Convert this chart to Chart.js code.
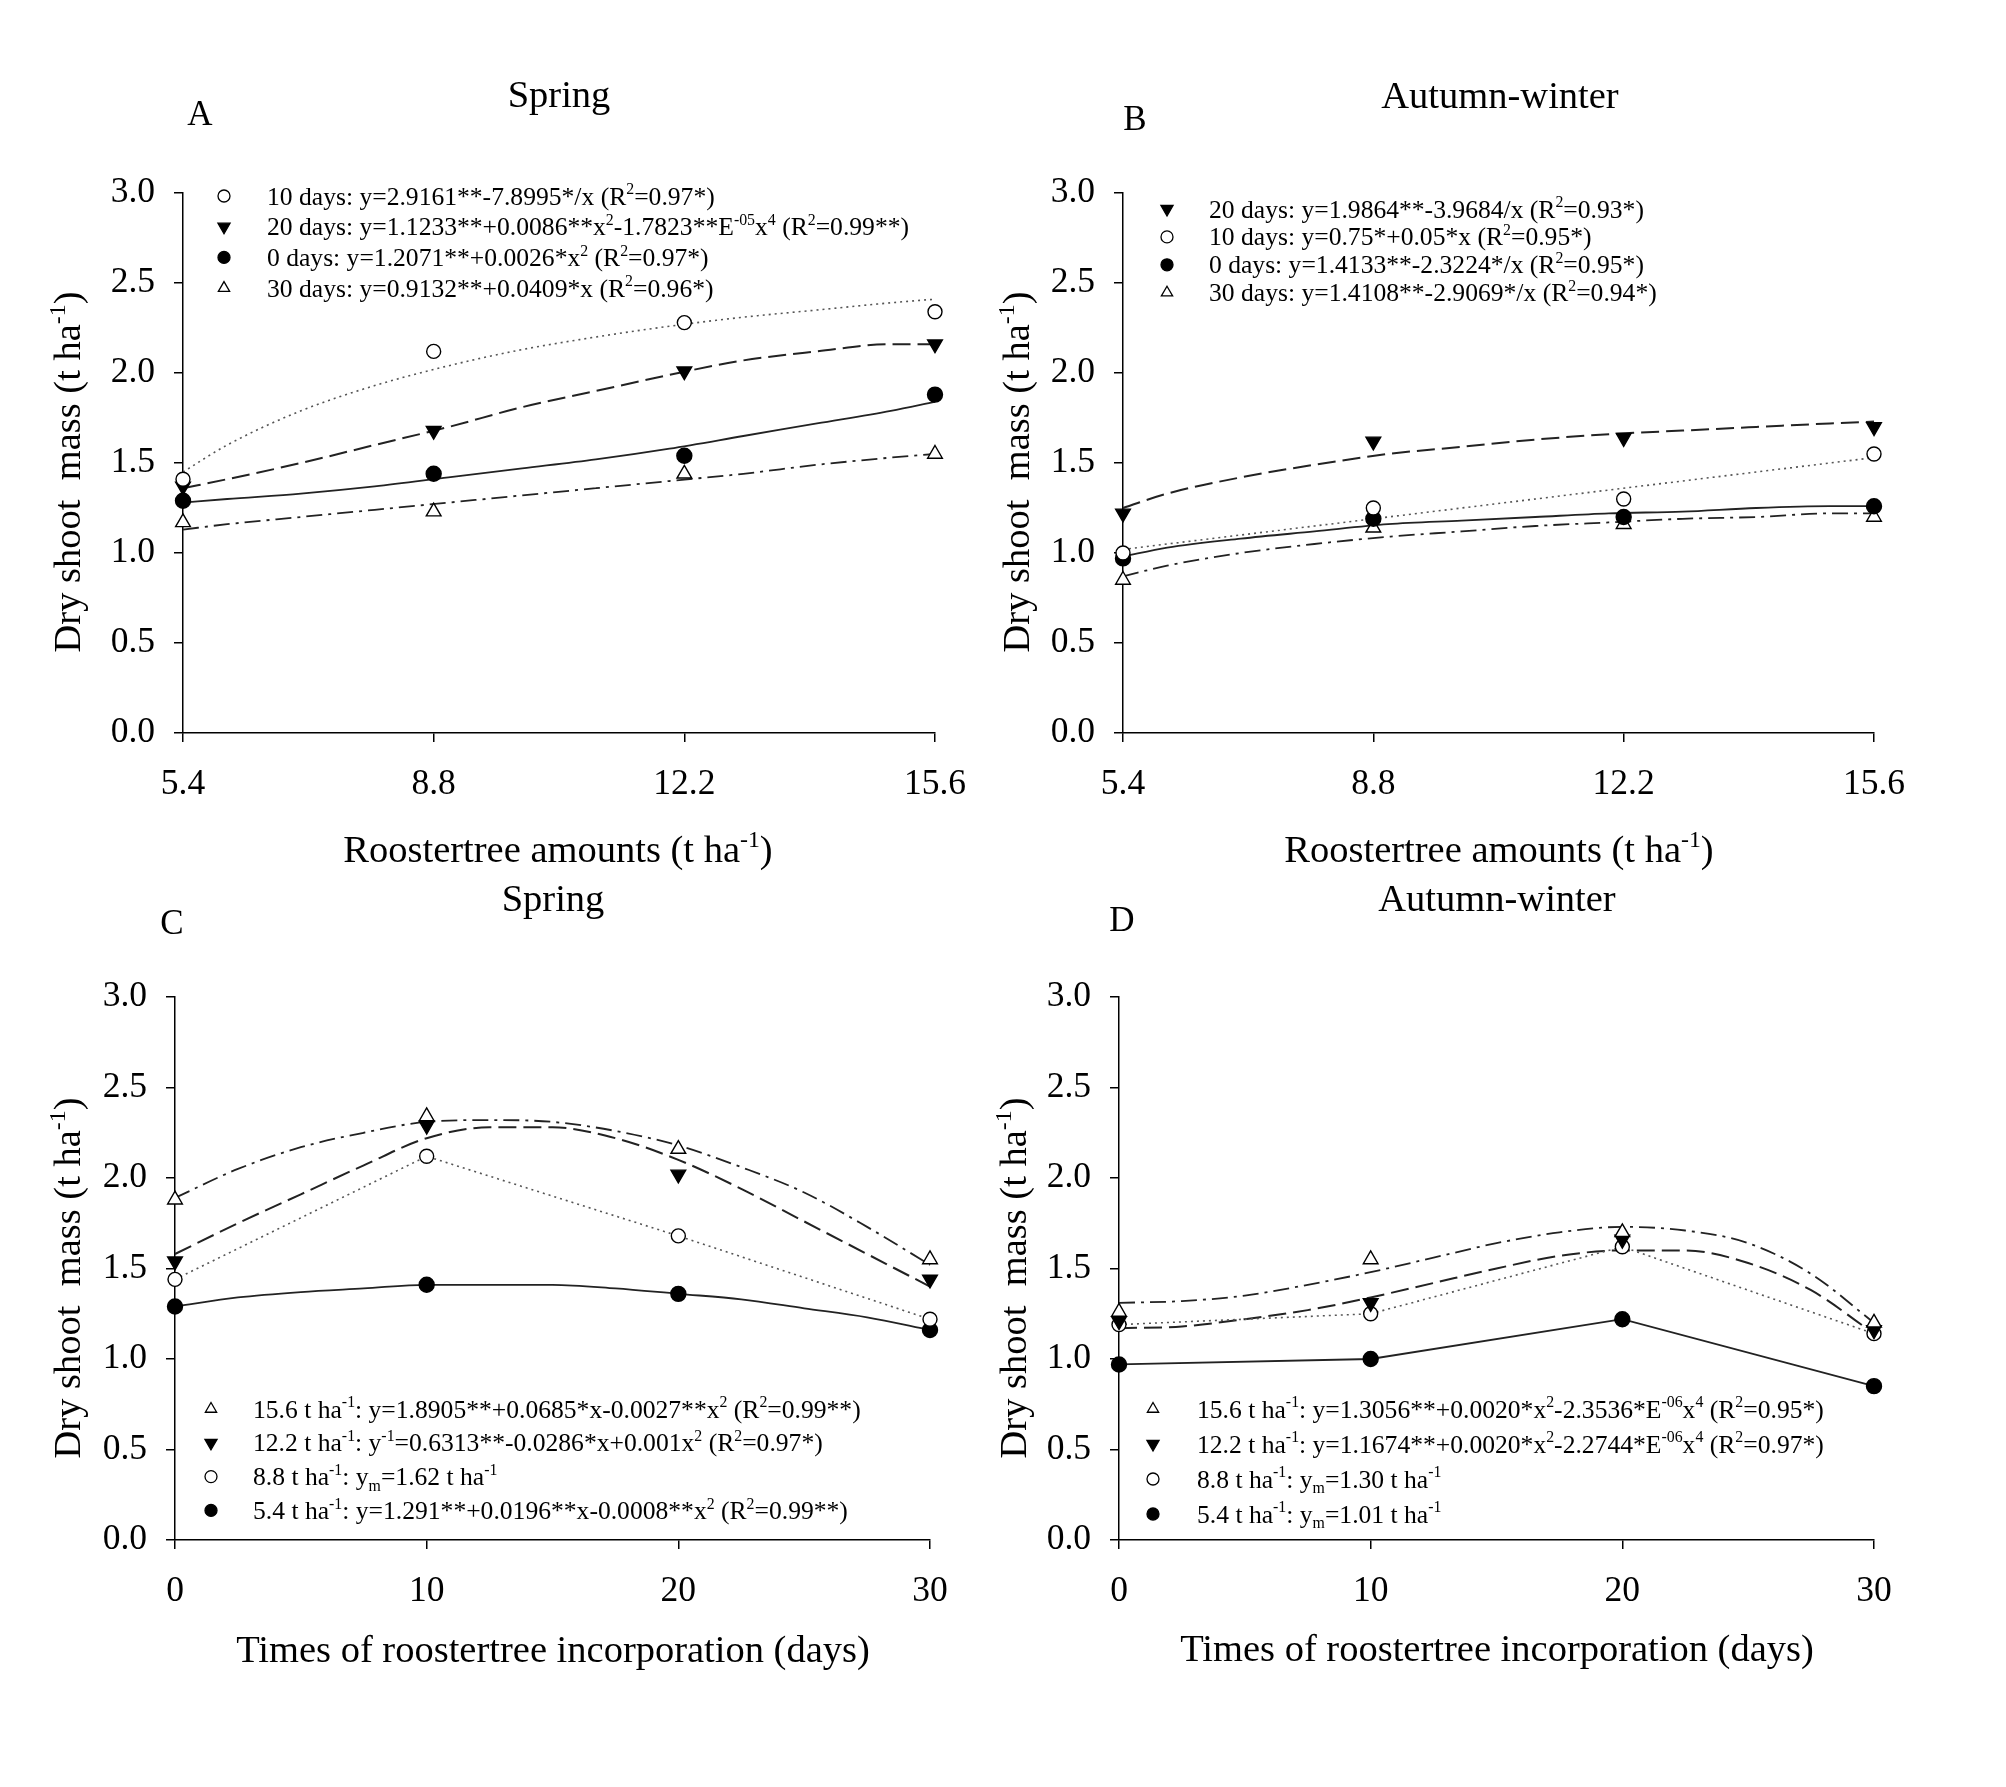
<!DOCTYPE html>
<html>
<head>
<meta charset="utf-8">
<title>Dry shoot mass</title>
<script src="https://cdn.jsdelivr.net/npm/chart.js@4.4.1/dist/chart.umd.min.js"></script>
<style>
  body { margin: 0; background: #fff; }
  #page { position: relative; width: 2006px; height: 1787px; background: #fff; overflow: hidden; }
  #page canvas { position: absolute; left: 0; top: 0; width: 2006px; height: 1787px; }
</style>
</head>
<body>
<div id="page"></div>
<script>
const W = 2006, H = 1787;
const FONT = '"Liberation Serif", "Times New Roman", serif';

// x positions
const amounts = [5.4, 8.8, 12.2, 15.6];
const amountFitX = [5.4, 6, 7, 8, 9, 10, 11, 12, 13, 14, 15, 15.6];
const days = [0, 10, 20, 30];
const dayFitX = [0, 2.5, 5, 7.5, 10, 12.5, 15, 17.5, 20, 22.5, 25, 27.5, 30];
const yTicks = [0, 0.5, 1, 1.5, 2, 2.5, 3];

// A - Spring, by roostertree amount (series = days of incorporation)
const springAmt10 = [1.41, 2.12, 2.28, 2.34];
const springAmt20 = [1.37, 1.68, 2.01, 2.16];
const springAmt0 = [1.29, 1.44, 1.54, 1.88];
const springAmt30 = [1.17, 1.23, 1.44, 1.55];
const springAmt10Fit = [1.45, 1.60, 1.79, 1.93, 2.04, 2.13, 2.20, 2.26, 2.31, 2.35, 2.39, 2.41];
const springAmt20Fit = [1.36, 1.41, 1.50, 1.60, 1.70, 1.81, 1.90, 1.99, 2.07, 2.12, 2.16, 2.16];
const springAmt0Fit = [1.28, 1.30, 1.33, 1.37, 1.42, 1.47, 1.52, 1.58, 1.65, 1.72, 1.79, 1.84];
const springAmt30Fit = [1.13, 1.16, 1.20, 1.24, 1.28, 1.32, 1.36, 1.40, 1.44, 1.49, 1.53, 1.55];

// B - Autumn-winter, by roostertree amount
const autumnAmt20 = [1.22, 1.62, 1.64, 1.70];
const autumnAmt10 = [1.00, 1.25, 1.30, 1.55];
const autumnAmt0 = [0.97, 1.19, 1.20, 1.26];
const autumnAmt30 = [0.85, 1.14, 1.16, 1.20];
const autumnAmt20Fit = [1.25, 1.33, 1.42, 1.49, 1.55, 1.59, 1.63, 1.66, 1.68, 1.70, 1.72, 1.73];
const autumnAmt10Fit = [1.02, 1.05, 1.10, 1.15, 1.20, 1.25, 1.30, 1.35, 1.40, 1.45, 1.50, 1.53];
const autumnAmt0Fit = [0.98, 1.03, 1.08, 1.12, 1.16, 1.18, 1.20, 1.22, 1.23, 1.25, 1.26, 1.26];
const autumnAmt30Fit = [0.87, 0.93, 1.00, 1.05, 1.09, 1.12, 1.15, 1.17, 1.19, 1.20, 1.22, 1.22];

// C - Spring, by time of incorporation (series = amount)
const springDay156 = [1.88, 2.34, 2.16, 1.55];
const springDay122 = [1.54, 2.29, 2.02, 1.44];
const springDay88 = [1.44, 2.12, 1.68, 1.22];
const springDay54 = [1.29, 1.41, 1.36, 1.16];
const springDay156Fit = [1.89, 2.05, 2.17, 2.25, 2.31, 2.32, 2.31, 2.26, 2.18, 2.06, 1.92, 1.73, 1.52];
const springDay122Fit = [1.58, 1.75, 1.91, 2.07, 2.22, 2.28, 2.28, 2.22, 2.10, 1.94, 1.76, 1.58, 1.40];
const springDay54Fit = [1.29, 1.34, 1.37, 1.39, 1.41, 1.41, 1.41, 1.39, 1.36, 1.33, 1.28, 1.23, 1.16];

// D - Autumn-winter, by time of incorporation
const autumnDay156 = [1.26, 1.55, 1.70, 1.20];
const autumnDay122 = [1.21, 1.31, 1.66, 1.16];
const autumnDay88 = [1.19, 1.25, 1.62, 1.14];
const autumnDay54 = [0.97, 1.00, 1.22, 0.85];
const autumnDay156Fit = [1.31, 1.32, 1.35, 1.41, 1.48, 1.56, 1.64, 1.70, 1.73, 1.71, 1.64, 1.47, 1.20];
const autumnDay122Fit = [1.17, 1.18, 1.22, 1.27, 1.34, 1.42, 1.50, 1.57, 1.60, 1.60, 1.53, 1.38, 1.14];

// legend labels (^{..} superscript, _{..} subscript)
const legendA = [
  '10 days: y=2.9161**-7.8995*/x (R^{2}=0.97*)',
  '20 days: y=1.1233**+0.0086**x^{2}-1.7823**E^{-05}x^{4} (R^{2}=0.99**)',
  '0 days: y=1.2071**+0.0026*x^{2} (R^{2}=0.97*)',
  '30 days: y=0.9132**+0.0409*x (R^{2}=0.96*)'
];
const legendB = [
  '20 days: y=1.9864**-3.9684/x (R^{2}=0.93*)',
  '10 days: y=0.75*+0.05*x (R^{2}=0.95*)',
  '0 days: y=1.4133**-2.3224*/x (R^{2}=0.95*)',
  '30 days: y=1.4108**-2.9069*/x (R^{2}=0.94*)'
];
const legendC = [
  '15.6 t ha^{-1}: y=1.8905**+0.0685*x-0.0027**x^{2} (R^{2}=0.99**)',
  '12.2 t ha^{-1}: y^{-1}=0.6313**-0.0286*x+0.001x^{2} (R^{2}=0.97*)',
  '8.8 t ha^{-1}: y_{m}=1.62 t ha^{-1}',
  '5.4 t ha^{-1}: y=1.291**+0.0196**x-0.0008**x^{2} (R^{2}=0.99**)'
];
const legendD = [
  '15.6 t ha^{-1}: y=1.3056**+0.0020*x^{2}-2.3536*E^{-06}x^{4} (R^{2}=0.95*)',
  '12.2 t ha^{-1}: y=1.1674**+0.0020*x^{2}-2.2744*E^{-06}x^{4} (R^{2}=0.97*)',
  '8.8 t ha^{-1}: y_{m}=1.30 t ha^{-1}',
  '5.4 t ha^{-1}: y_{m}=1.01 t ha^{-1}'
];

const amountTitle = 'Roostertree amounts (t ha^{-1})';
const dayTitle = 'Times of roostertree incorporation (days)';
const yTitle = 'Dry shoot  mass (t ha^{-1})';

// marker + line look for each kind of series
const styles = {
  openCircle:   { pointStyle: 'circle',   fill: '#fff', radius: 7,   rotation: 0,   dash: [2, 4],        color: '#555', width: 1.6, legendRadius: 6 },
  downTri:      { pointStyle: 'triangle', fill: '#000', radius: 8.5, rotation: 180, dash: [18, 7],       color: '#222', width: 2,   legendRadius: 7 },
  filledCircle: { pointStyle: 'circle',   fill: '#000', radius: 7.5, rotation: 0,   dash: [],            color: '#222', width: 1.8, legendRadius: 6 },
  openTri:      { pointStyle: 'triangle', fill: '#fff', radius: 8.5, rotation: 0,   dash: [16, 6, 3, 6], color: '#222', width: 1.8, legendRadius: 6.5 }
};

function parseRich(str) {
  const parts = [];
  const re = /([\^_])\{([^}]*)\}/g;
  let last = 0, m;
  while ((m = re.exec(str))) {
    if (m.index > last) parts.push({ t: str.slice(last, m.index), k: 'n' });
    parts.push({ t: m[2], k: m[1] === '^' ? 'sup' : 'sub' });
    last = re.lastIndex;
  }
  if (last < str.length) parts.push({ t: str.slice(last), k: 'n' });
  return parts;
}

function drawRich(ctx, str, x, y, size, align, rotate) {
  const parts = parseRich(str);
  const small = size * 0.62;
  let w = 0;
  parts.forEach(p => {
    ctx.font = `${p.k === 'n' ? size : small}px ${FONT}`;
    p.w = ctx.measureText(p.t).width;
    w += p.w;
  });
  ctx.save();
  ctx.translate(x, y);
  if (rotate) ctx.rotate(rotate * Math.PI / 180);
  ctx.textAlign = 'left';
  ctx.textBaseline = 'alphabetic';
  let cx = align === 'center' ? -w / 2 : 0;
  parts.forEach(p => {
    ctx.font = `${p.k === 'n' ? size : small}px ${FONT}`;
    const dy = p.k === 'sup' ? -size * 0.4 : (p.k === 'sub' ? size * 0.22 : 0);
    ctx.fillText(p.t, cx, dy);
    cx += p.w;
  });
  ctx.restore();
}

function drawMarker(ctx, st, x, y) {
  const r = st.legendRadius;
  ctx.beginPath();
  if (st.pointStyle === 'circle') {
    ctx.arc(x, y, r, 0, Math.PI * 2);
  } else {
    let a = st.rotation * Math.PI / 180;
    for (let i = 0; i < 3; i++) {
      const px = x + Math.sin(a) * r, py = y - Math.cos(a) * r;
      if (i === 0) ctx.moveTo(px, py); else ctx.lineTo(px, py);
      a += Math.PI * 2 / 3;
    }
    ctx.closePath();
  }
  ctx.fillStyle = st.fill;
  ctx.fill();
  ctx.lineWidth = 1.3;
  ctx.strokeStyle = '#000';
  ctx.stroke();
}

// titles, axis titles and in-plot legends
const textPlugin = {
  id: 'panelText',
  afterDraw(chart, args, opts) {
    const ctx = chart.ctx;
    ctx.save();
    (opts.texts || []).forEach(t => {
      ctx.fillStyle = '#000';
      drawRich(ctx, t.text, t.x, t.y, t.size, t.align, t.rotate);
    });
    const lg = opts.legend;
    if (lg) {
      lg.labels.forEach((label, i) => {
        const y = lg.y + i * lg.gap;
        drawMarker(ctx, styles[lg.markers[i]], lg.symX, y);
        ctx.fillStyle = '#000';
        drawRich(ctx, label, lg.textX, y + 8.5, lg.size, 'left');
      });
    }
    ctx.restore();
  }
};

function seriesDatasets(s) {
  const st = styles[s.marker];
  const sets = [{
    data: s.xs.map((x, i) => ({ x: x, y: s.ys[i] })),
    showLine: !!s.connect,
    borderColor: st.color,
    borderWidth: st.width,
    borderDash: st.dash,
    tension: 0,
    pointStyle: st.pointStyle,
    pointRadius: st.radius,
    pointRotation: st.rotation,
    pointBackgroundColor: st.fill,
    pointBorderColor: '#000',
    pointBorderWidth: 1.4,
    clip: false,
    order: 0
  }];
  if (s.fitY) {
    sets.push({
      data: s.fitX.map((x, i) => ({ x: x, y: s.fitY[i] })),
      borderColor: st.color,
      borderWidth: st.width,
      borderDash: st.dash,
      cubicInterpolationMode: 'monotone',
      pointRadius: 0,
      clip: false,
      order: 1
    });
  }
  return sets;
}

const TITLE = 38.5;
const LEG = 25.6;

const panels = [
  {
    plot: { l: 183, r: 935, t: 193, b: 733 },
    xMin: 5.4, xMax: 15.6, xTicks: amounts, xFmt: v => v.toFixed(1),
    series: [
      { xs: amounts, ys: springAmt10, marker: 'openCircle', fitX: amountFitX, fitY: springAmt10Fit },
      { xs: amounts, ys: springAmt20, marker: 'downTri', fitX: amountFitX, fitY: springAmt20Fit },
      { xs: amounts, ys: springAmt0, marker: 'filledCircle', fitX: amountFitX, fitY: springAmt0Fit },
      { xs: amounts, ys: springAmt30, marker: 'openTri', fitX: amountFitX, fitY: springAmt30Fit }
    ],
    legend: { labels: legendA, markers: ['openCircle', 'downTri', 'filledCircle', 'openTri'], symX: 224, textX: 267, y: 196, gap: 30.7, size: LEG },
    texts: [
      { text: 'A', x: 200, y: 125, size: 35, align: 'center' },
      { text: 'Spring', x: 559, y: 107, size: TITLE, align: 'center' },
      { text: amountTitle, x: 558, y: 862, size: TITLE, align: 'center' },
      { text: yTitle, x: 80, y: 472, size: TITLE, align: 'center', rotate: -90 }
    ]
  },
  {
    plot: { l: 1123, r: 1874, t: 193, b: 733 },
    xMin: 5.4, xMax: 15.6, xTicks: amounts, xFmt: v => v.toFixed(1),
    series: [
      { xs: amounts, ys: autumnAmt20, marker: 'downTri', fitX: amountFitX, fitY: autumnAmt20Fit },
      { xs: amounts, ys: autumnAmt10, marker: 'openCircle', fitX: amountFitX, fitY: autumnAmt10Fit },
      { xs: amounts, ys: autumnAmt0, marker: 'filledCircle', fitX: amountFitX, fitY: autumnAmt0Fit },
      { xs: amounts, ys: autumnAmt30, marker: 'openTri', fitX: amountFitX, fitY: autumnAmt30Fit }
    ],
    legend: { labels: legendB, markers: ['downTri', 'openCircle', 'filledCircle', 'openTri'], symX: 1167, textX: 1209, y: 209, gap: 27.9, size: LEG },
    texts: [
      { text: 'B', x: 1135, y: 130, size: 35, align: 'center' },
      { text: 'Autumn-winter', x: 1500, y: 108, size: TITLE, align: 'center' },
      { text: amountTitle, x: 1499, y: 862, size: TITLE, align: 'center' },
      { text: yTitle, x: 1029, y: 472, size: TITLE, align: 'center', rotate: -90 }
    ]
  },
  {
    plot: { l: 175, r: 930, t: 997, b: 1540 },
    xMin: 0, xMax: 30, xTicks: days, xFmt: v => String(v),
    series: [
      { xs: days, ys: springDay156, marker: 'openTri', fitX: dayFitX, fitY: springDay156Fit },
      { xs: days, ys: springDay122, marker: 'downTri', fitX: dayFitX, fitY: springDay122Fit },
      { xs: days, ys: springDay88, marker: 'openCircle', connect: true },
      { xs: days, ys: springDay54, marker: 'filledCircle', fitX: dayFitX, fitY: springDay54Fit }
    ],
    legend: { labels: legendC, markers: ['openTri', 'downTri', 'openCircle', 'filledCircle'], symX: 211, textX: 253, y: 1409, gap: 33.8, size: LEG },
    texts: [
      { text: 'C', x: 172, y: 934, size: 35, align: 'center' },
      { text: 'Spring', x: 553, y: 911, size: TITLE, align: 'center' },
      { text: dayTitle, x: 553, y: 1662, size: TITLE, align: 'center' },
      { text: yTitle, x: 80, y: 1278, size: TITLE, align: 'center', rotate: -90 }
    ]
  },
  {
    plot: { l: 1119, r: 1874, t: 997, b: 1540 },
    xMin: 0, xMax: 30, xTicks: days, xFmt: v => String(v),
    series: [
      { xs: days, ys: autumnDay156, marker: 'openTri', fitX: dayFitX, fitY: autumnDay156Fit },
      { xs: days, ys: autumnDay122, marker: 'downTri', fitX: dayFitX, fitY: autumnDay122Fit },
      { xs: days, ys: autumnDay88, marker: 'openCircle', connect: true },
      { xs: days, ys: autumnDay54, marker: 'filledCircle', connect: true }
    ],
    legend: { labels: legendD, markers: ['openTri', 'downTri', 'openCircle', 'filledCircle'], symX: 1153, textX: 1197, y: 1409, gap: 35, size: LEG },
    texts: [
      { text: 'D', x: 1122, y: 931, size: 35, align: 'center' },
      { text: 'Autumn-winter', x: 1497, y: 911, size: TITLE, align: 'center' },
      { text: dayTitle, x: 1497, y: 1661, size: TITLE, align: 'center' },
      { text: yTitle, x: 1026, y: 1278, size: TITLE, align: 'center', rotate: -90 }
    ]
  }
];

const page = document.getElementById('page');

function makeChart(p) {
  const canvas = document.createElement('canvas');
  canvas.width = W;
  canvas.height = H;
  page.appendChild(canvas);

  const datasets = [];
  p.series.forEach(s => datasets.push(...seriesDatasets(s)));

  const axisGrid = { display: true, drawOnChartArea: false, drawTicks: true, tickLength: 9, color: '#000', lineWidth: 1.5 };
  const axisBorder = { display: true, color: '#000', width: 1.5 };
  const tickFont = { family: FONT, size: 35.5 };

  new Chart(canvas, {
    type: 'line',
    data: { datasets: datasets },
    options: {
      responsive: false,
      animation: false,
      devicePixelRatio: 1,
      events: [],
      layout: { padding: { left: 0, top: p.plot.t, right: W - p.plot.r, bottom: 0 } },
      plugins: {
        legend: { display: false },
        tooltip: { enabled: false },
        panelText: { texts: p.texts, legend: p.legend }
      },
      scales: {
        x: {
          type: 'linear',
          min: p.xMin,
          max: p.xMax,
          afterBuildTicks: sc => { sc.ticks = p.xTicks.map(v => ({ value: v })); },
          afterFit: sc => { sc.height = H - p.plot.b; },
          grid: axisGrid,
          border: axisBorder,
          ticks: { font: tickFont, color: '#000', padding: 21, maxRotation: 0, autoSkip: false, callback: v => p.xFmt(v) }
        },
        y: {
          type: 'linear',
          min: 0,
          max: 3,
          afterBuildTicks: sc => { sc.ticks = yTicks.map(v => ({ value: v })); },
          afterFit: sc => { sc.width = p.plot.l; },
          grid: axisGrid,
          border: axisBorder,
          ticks: { font: tickFont, color: '#000', padding: 19, callback: v => v.toFixed(1) }
        }
      }
    },
    plugins: [textPlugin]
  });
}

panels.forEach(makeChart);
</script>
</body>
</html>
